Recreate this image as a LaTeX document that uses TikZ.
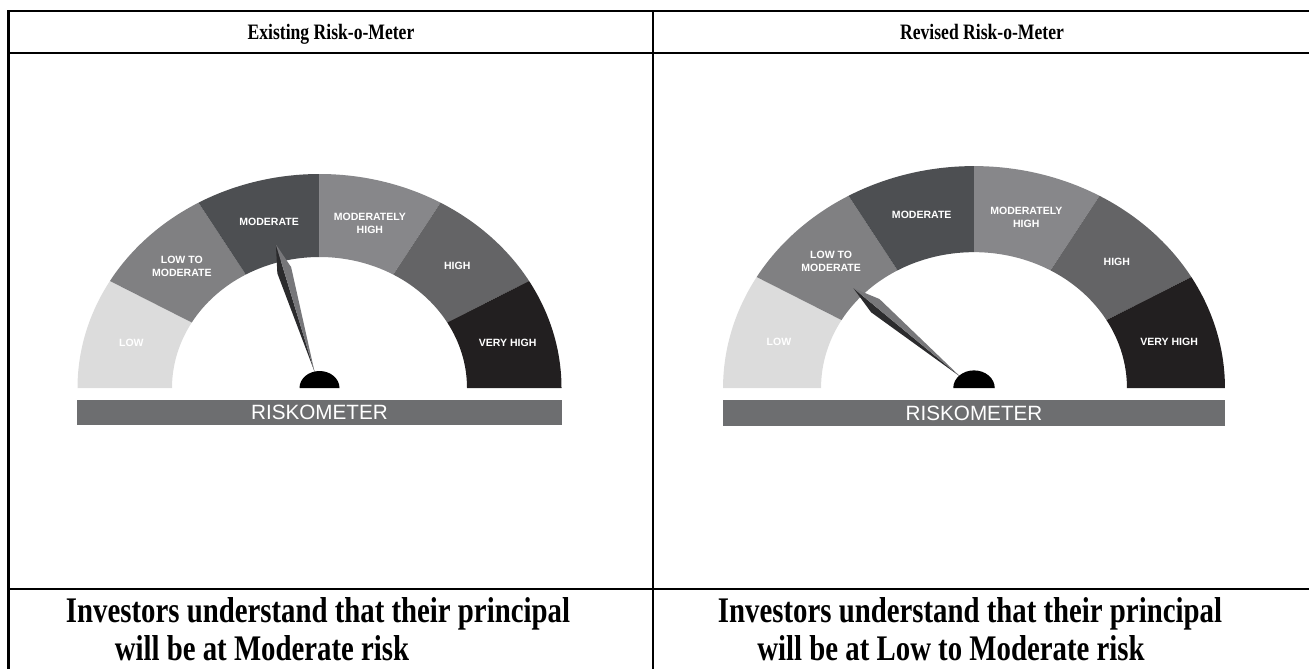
\documentclass[tikz,border=0pt]{standalone}
\usepackage{graphicx}
\usepackage{fontspec}
\setmainfont{Liberation Serif}
\newfontfamily\metersf{Liberation Sans}
\newcommand{\tightx}[1]{\scalebox{0.8}[1]{#1}}
\definecolor{lowgray}{HTML}{DCDCDC}
\definecolor{ltmgray}{HTML}{808082}
\definecolor{modgray}{HTML}{4D4F52}
\definecolor{mhgray}{HTML}{87878A}
\definecolor{highgray}{HTML}{646466}
\definecolor{vhgray}{HTML}{221F20}
\definecolor{bargray}{HTML}{6D6E70}
\definecolor{needledark}{HTML}{2B2B2D}
\definecolor{needlegray}{HTML}{77777A}
\begin{document}
\begin{tikzpicture}[x=0.75pt,y=0.75pt,
  rule/.style={line width=1.6pt,line cap=rect},
  head/.style={font=\bfseries\fontsize{16.5}{19}\selectfont,inner sep=0pt,anchor=base},
  note/.style={font=\bfseries\fontsize{27}{30}\selectfont,inner sep=0pt,anchor=base},
  band/.style={font=\metersf\bfseries\fontsize{7.9}{9.8}\selectfont,text=white,align=center,inner sep=0pt},
  meter/.style={font=\metersf\fontsize{15.5}{18}\selectfont,text=white,inner sep=0pt},
  outer ring/.style={x radius=242,y radius=214},
  inner ring/.style={x radius=147.5,y radius=131}]
\useasboundingbox (0,0) rectangle (1309,-668);
% table
\draw[rule] (8,-11) -- (1309,-11);
\draw[rule] (8,-53) -- (1309,-53);
\draw[rule] (8,-589) -- (1309,-589);
\draw[rule] (8.5,-11) -- (8.5,-670);
\draw[rule] (653,-11) -- (653,-670);
\node[head] (hdrL) at (331,-39) {\tightx{Existing Risk-o-Meter}};
\node[head] (hdrR) at (982,-39) {\tightx{Revised Risk-o-Meter}};
\node[note] (noteLa) at (318,-622) {\tightx{Investors understand that their principal}};
\node[note] (noteLb) at (262,-660) {\tightx{will be at Moderate risk}};
\node[note] (noteRa) at (970,-622) {\tightx{Investors understand that their principal}};
\node[note] (noteRb) at (951,-660) {\tightx{will be at Low to Moderate risk}};
% existing meter
\begin{scope}[shift={(319.5,-388)}]
\fill[lowgray] (180:242 and 214) arc[outer ring,start angle=180,end angle=150] -- (150:147.5 and 131) arc[inner ring,start angle=150,end angle=180] -- cycle;
\fill[ltmgray] (150:242 and 214) arc[outer ring,start angle=150,end angle=120] -- (120:147.5 and 131) arc[inner ring,start angle=120,end angle=150] -- cycle;
\fill[modgray] (120:242 and 214) arc[outer ring,start angle=120,end angle=90] -- (90:147.5 and 131) arc[inner ring,start angle=90,end angle=120] -- cycle;
\fill[mhgray] (90:242 and 214) arc[outer ring,start angle=90,end angle=60] -- (60:147.5 and 131) arc[inner ring,start angle=60,end angle=90] -- cycle;
\fill[highgray] (60:242 and 214) arc[outer ring,start angle=60,end angle=30] -- (30:147.5 and 131) arc[inner ring,start angle=30,end angle=60] -- cycle;
\fill[vhgray] (30:242 and 214) arc[outer ring,start angle=30,end angle=0] -- (0:147.5 and 131) arc[inner ring,start angle=0,end angle=30] -- cycle;
\node[band] (lowL) at (165:194.75 and 172.5) {LOW};
\node[band] (ltmL) at (135:194.75 and 172.5) {LOW TO\\MODERATE};
\node[band] (modL) at (105:194.75 and 172.5) {MODERATE};
\node[band] (mhL) at (75:194.75 and 170) {MODERATELY\\HIGH};
\node[band] (highL) at (45:194.75 and 172.5) {HIGH};
\node[band] (vhL) at (15:194.75 and 172.5) {VERY HIGH};
\begin{scope}[rotate=16.9]
\fill[needledark] (0,150) -- (-7,122) -- (0,17) -- cycle;
\fill[needlegray] (0,150) -- (8,124) -- (0,17) -- cycle;
\end{scope}
\fill[black] (-20,0) arc[start angle=180,end angle=0,x radius=20,y radius=17] -- cycle;
\fill[bargray] (-242.5,-12) rectangle (242.5,-37);
\node[meter] (riskL) at (0,-24.5) {RISKOMETER};
\end{scope}
% revised meter
\begin{scope}[shift={(974,-388)},scale=1.037]
\fill[lowgray] (180:242 and 214) arc[outer ring,start angle=180,end angle=150] -- (150:147.5 and 131) arc[inner ring,start angle=150,end angle=180] -- cycle;
\fill[ltmgray] (150:242 and 214) arc[outer ring,start angle=150,end angle=120] -- (120:147.5 and 131) arc[inner ring,start angle=120,end angle=150] -- cycle;
\fill[modgray] (120:242 and 214) arc[outer ring,start angle=120,end angle=90] -- (90:147.5 and 131) arc[inner ring,start angle=90,end angle=120] -- cycle;
\fill[mhgray] (90:242 and 214) arc[outer ring,start angle=90,end angle=60] -- (60:147.5 and 131) arc[inner ring,start angle=60,end angle=90] -- cycle;
\fill[highgray] (60:242 and 214) arc[outer ring,start angle=60,end angle=30] -- (30:147.5 and 131) arc[inner ring,start angle=30,end angle=60] -- cycle;
\fill[vhgray] (30:242 and 214) arc[outer ring,start angle=30,end angle=0] -- (0:147.5 and 131) arc[inner ring,start angle=0,end angle=30] -- cycle;
\node[band] (lowR) at (165:194.75 and 172.5) {LOW};
\node[band] (ltmR) at (135:194.75 and 172.5) {LOW TO\\MODERATE};
\node[band] (modR) at (105:194.75 and 172.5) {MODERATE};
\node[band] (mhR) at (75:194.75 and 170) {MODERATELY\\HIGH};
\node[band] (highR) at (45:194.75 and 172.5) {HIGH};
\node[band] (vhR) at (15:194.75 and 172.5) {VERY HIGH};
\begin{scope}[rotate=50.4]
\fill[needledark] (0,151) -- (-7,123) -- (0,17) -- cycle;
\fill[needlegray] (0,151) -- (8,125) -- (0,17) -- cycle;
\end{scope}
\fill[black] (-20,0) arc[start angle=180,end angle=0,x radius=20,y radius=17] -- cycle;
\fill[bargray] (-242.5,-12) rectangle (242.5,-37);
\node[meter] (riskR) at (0,-24.5) {RISKOMETER};
\end{scope}
\end{tikzpicture}
\end{document}
